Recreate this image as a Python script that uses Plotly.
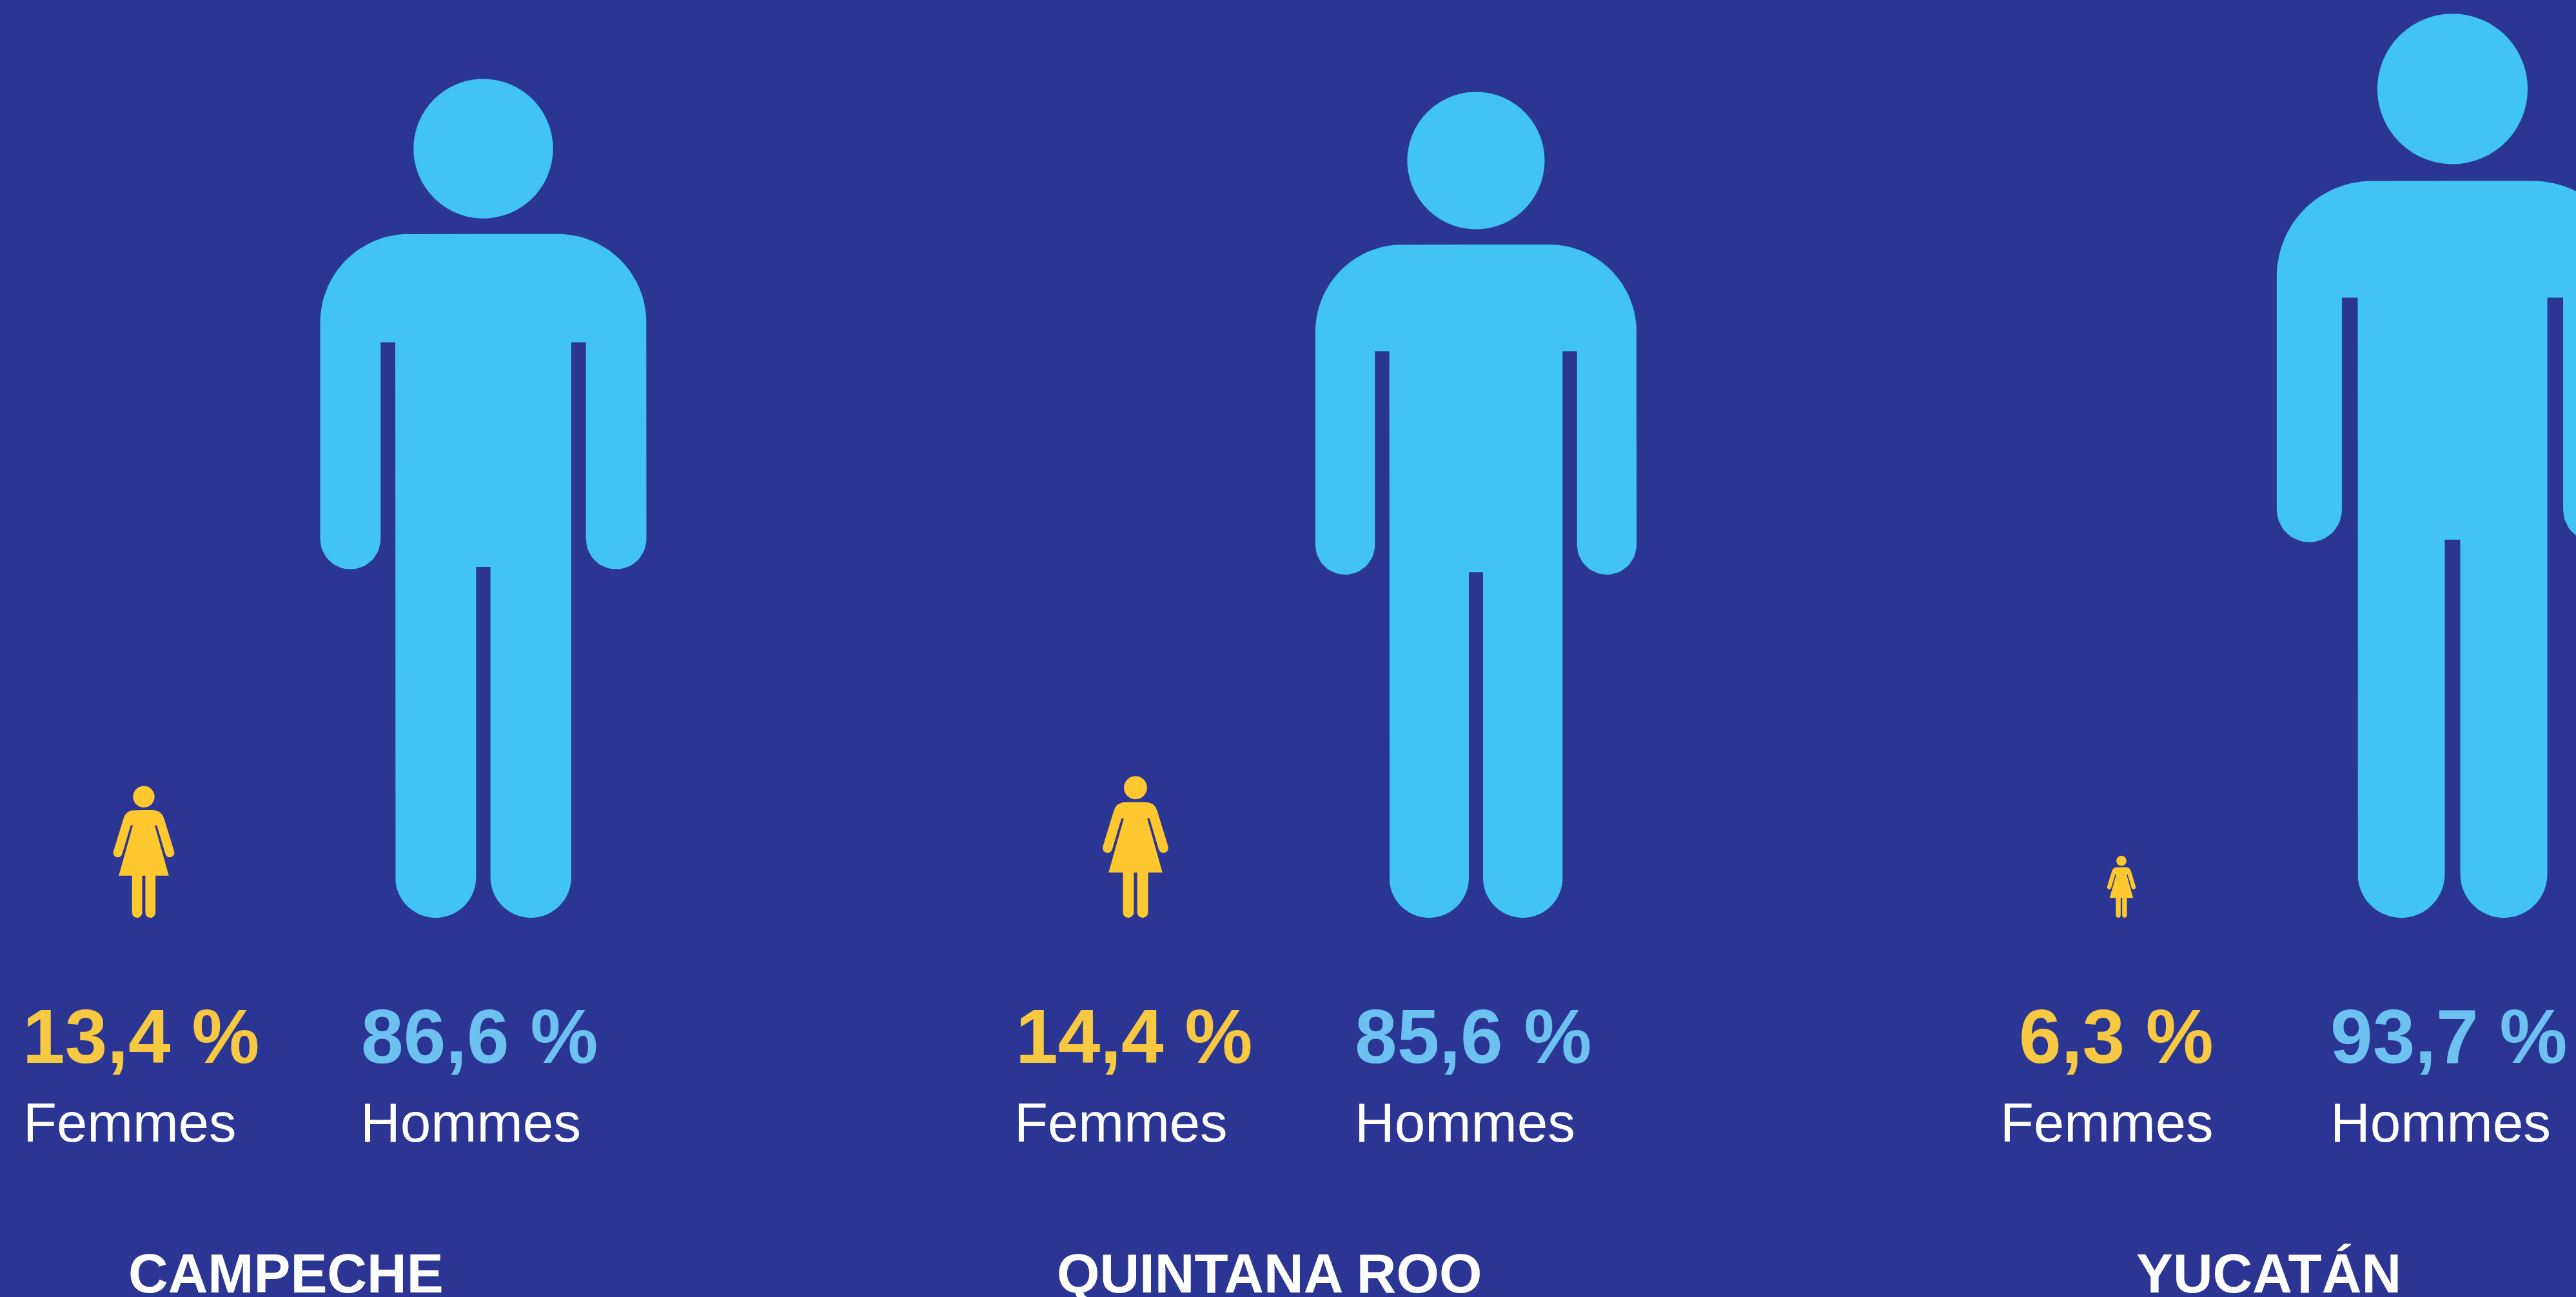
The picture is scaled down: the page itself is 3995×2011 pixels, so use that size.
import numpy as np
import plotly.graph_objects as go

# ---------- data ----------
states = ["CAMPECHE", "QUINTANA ROO", "YUCATÁN"]
femmes = [13.4, 14.4, 6.3]
hommes = [86.6, 85.6, 93.7]
label_f = "Femmes"
label_h = "Hommes"

# ---------- page geometry ----------
W, H = 3995, 2011
BASE = 1423            # pixel row of the baseline (value 0)
UNIT = 14.96           # pixels per percentage point, both axes
WOMAN_K = 1.02         # the woman pictogram is drawn a little larger per point
MAN_K = [1.004, 1.0, 1.0]

BG = "#2B3593"
MAN = "#41C4F5"
WOMAN = "#FFC82E"
PCT_F = "#F7C841"
PCT_H = "#6CC1F0"

man_cx = [749.5, 2289, 3803.5]
woman_cx = [223, 1761, 3290]
pct_f_x = [(35, "left"), (1575, "left"), (3433, "right")]
lab_f_x = [(36, "left"), (1573, "left"), (3433, "right")]
pct_h_x = [(560, "left"), (2101, "left"), (3614, "left")]
lab_h_x = [(559, "left"), (2101, "left"), (3614, "left")]
title_x = [443, 1968, 3518]


def arc(cx, cy, rx, ry, a0, a1, n=28):
    a = np.radians(np.linspace(a0, a1, n))
    return list(zip(cx + rx * np.cos(a), cy + ry * np.sin(a)))


def mirror(left):
    """left: outline from the top centre to the bottom centre, x<=0"""
    return left + [(-x, y) for x, y in reversed(left)]


def man_unit():
    # y measured downward from head top; total height 1
    r = 0.0832
    head = arc(0, r, r, r, 0, 360, 60)
    top, pit, arm_b, crotch = 0.1849, 0.314, 0.5846, 0.5817
    ao, ai, th, ch = 0.1945, 0.1224, 0.1049, 0.00857
    sr = 0.1056
    ar = (ao - ai) / 2
    lr = (th - ch) / 2
    left = [(0, top)]
    left += arc(-ao + sr, top + sr, sr, sr, 270, 180)
    left += arc(-(ao + ai) / 2, arm_b - ar, ar, ar, 180, 0)
    left += [(-ai, pit), (-th, pit)]
    left += arc(-(th + ch) / 2, 1 - lr, lr, lr, 180, 0)
    left += [(-ch, crotch), (0, crotch)]
    return head, mirror(left)


def woman_unit():
    r = 0.082
    head = arc(0, r, r, r, 0, 360, 60)
    top = 0.1837
    # rounded shoulder as a quadratic curve
    p0, p1, p2 = np.array([-0.065, top]), np.array([-0.138, top]), np.array([-0.155, 0.2515])
    left = [(0, top)]
    for t in np.linspace(0, 1, 18):
        q = (1 - t) ** 2 * p0 + 2 * t * (1 - t) * p1 + t ** 2 * p2
        left.append((q[0], q[1]))
    ar = 0.0346
    left += arc(-0.1973, 0.5075, ar, ar, 197, 17)
    left += [(-0.0994, 0.2997), (-0.0828, 0.2997), (-0.1898, 0.6807), (-0.0889, 0.6807)]
    lr = 0.0384
    left += arc(-0.0505, 1 - lr, lr, lr, 180, 0)
    left += [(-0.0120, 0.6807), (0, 0.6807)]
    return head, mirror(left)


def glyph_trace(unit, cx_px, value, color, k=1.0):
    cx = cx_px / UNIT
    h = value * k
    xs, ys = [], []
    for part in unit:
        xs += [cx + u * h for u, _ in part] + [None]
        ys += [h - v * h for _, v in part] + [None]
    return go.Scatter(x=xs, y=ys, mode="lines", fill="toself", fillcolor=color,
                      line=dict(width=0, color=color), hoverinfo="skip", showlegend=False)


fig = go.Figure()
m_u, w_u = man_unit(), woman_unit()
for i in range(len(states)):
    fig.add_trace(glyph_trace(m_u, man_cx[i], hommes[i], MAN, MAN_K[i]))
    fig.add_trace(glyph_trace(w_u, woman_cx[i], femmes[i], WOMAN, WOMAN_K))


def y_of(py):
    return (BASE - py) / UNIT


def label(px, py, text, size, color, bold=False, anchor="left"):
    fig.add_annotation(x=px / UNIT, y=y_of(py), xref="x", yref="y", text=f"<b>{text}</b>" if bold else text,
                       showarrow=False, xanchor=anchor, yanchor="middle",
                       font=dict(family="Liberation Sans", size=size, color=color),
                       borderpad=0, borderwidth=0)


def pct(v):
    return f"{v:.1f}".replace(".", ",") + " %"


for i, s in enumerate(states):
    label(pct_f_x[i][0], 1607, pct(femmes[i]), 118, PCT_F, True, pct_f_x[i][1])
    label(pct_h_x[i][0], 1607, pct(hommes[i]), 118, PCT_H, True, pct_h_x[i][1])
    label(lab_f_x[i][0], 1740, label_f, 85, "white", False, lab_f_x[i][1])
    label(lab_h_x[i][0], 1740, label_h, 85.5, "white", False, lab_h_x[i][1])
    label(title_x[i], 1974, s, 85.4, "white", True, "center")

axis = dict(visible=False, showgrid=False, zeroline=False, fixedrange=True)
fig.update_xaxes(range=[0, W / UNIT], **axis)
fig.update_yaxes(range=[(BASE - H) / UNIT, BASE / UNIT], **axis)
fig.update_layout(width=W, height=H, margin=dict(l=0, r=0, t=0, b=0, pad=0),
                  paper_bgcolor=BG, plot_bgcolor=BG, showlegend=False)

fig.write_html("out.html", config=dict(displayModeBar=False),
               post_script="document.body.style.margin='0';document.documentElement.style.overflow='hidden';document.documentElement.style.background='" + BG + "';")
